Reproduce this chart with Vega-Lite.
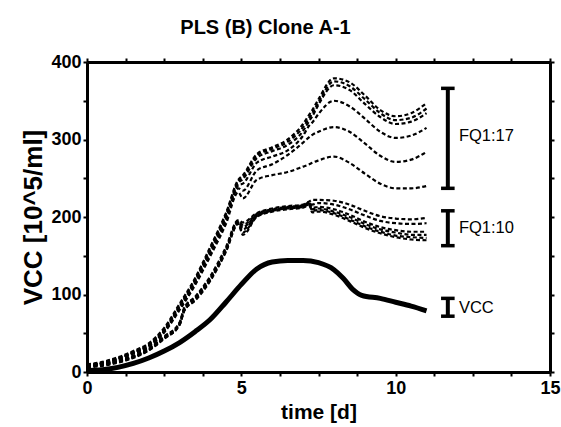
{
 "$schema": "https://vega.github.io/schema/vega-lite/v6.json",
 "autosize": "none",
 "width": 463,
 "height": 310,
 "padding": {"left": 87, "top": 62, "right": 11, "bottom": 55},
 "background": "white",
 "title": {"text": "PLS (B) Clone A-1", "font": "Liberation Sans", "fontSize": 20, "fontWeight": "bold", "color": "black", "anchor": "middle", "dx": -53, "offset": 15},
 "config": {"view": {"stroke": null}, "font": "Liberation Sans",
   "axis": {"grid": false, "domainColor": "black", "domainWidth": 3, "tickColor": "black", "tickWidth": 2, "tickSize": 4, "labelFont": "Liberation Sans", "labelFontWeight": "bold", "labelFontSize": 18, "labelColor": "black", "titleFont": "Liberation Sans", "titleFontWeight": "bold", "titleColor": "black", "labelOverlap": false, "labelFlush": false}},
 "resolve": {"axis": {"x": "independent", "y": "independent"}},
 "datasets": {
  "fq": [
   {"s":"a1","t":0,"v":10},{"s":"a1","t":0.5,"v":13},{"s":"a1","t":1,"v":19},{"s":"a1","t":1.5,"v":27},{"s":"a1","t":2,"v":37},{"s":"a1","t":2.5,"v":57},{"s":"a1","t":3,"v":88},{"s":"a1","t":3.5,"v":121},{"s":"a1","t":4,"v":162},{"s":"a1","t":4.5,"v":205},{"s":"a1","t":4.9,"v":248},{"s":"a1","t":5.05,"v":254},{"s":"a1","t":5.5,"v":281},{"s":"a1","t":6,"v":290},{"s":"a1","t":6.5,"v":300},{"s":"a1","t":7,"v":320},{"s":"a1","t":7.2,"v":332},{"s":"a1","t":7.3,"v":338},{"s":"a1","t":7.5,"v":352},{"s":"a1","t":8,"v":379},{"s":"a1","t":8.5,"v":374},{"s":"a1","t":9,"v":357},{"s":"a1","t":9.5,"v":338},{"s":"a1","t":10,"v":330},{"s":"a1","t":10.5,"v":334},{"s":"a1","t":11,"v":347},
   {"s":"a2","t":0,"v":9},{"s":"a2","t":0.5,"v":12},{"s":"a2","t":1,"v":18},{"s":"a2","t":1.5,"v":26},{"s":"a2","t":2,"v":36},{"s":"a2","t":2.5,"v":55},{"s":"a2","t":3,"v":86},{"s":"a2","t":3.5,"v":119},{"s":"a2","t":4,"v":160},{"s":"a2","t":4.5,"v":203},{"s":"a2","t":4.9,"v":246},{"s":"a2","t":5.05,"v":252},{"s":"a2","t":5.5,"v":279},{"s":"a2","t":6,"v":288},{"s":"a2","t":6.5,"v":297},{"s":"a2","t":7,"v":316},{"s":"a2","t":7.2,"v":328},{"s":"a2","t":7.3,"v":334},{"s":"a2","t":7.5,"v":348},{"s":"a2","t":8,"v":375},{"s":"a2","t":8.5,"v":369},{"s":"a2","t":9,"v":352},{"s":"a2","t":9.5,"v":334},{"s":"a2","t":10,"v":325},{"s":"a2","t":10.5,"v":328},{"s":"a2","t":11,"v":340},
   {"s":"a3","t":0,"v":9},{"s":"a3","t":0.5,"v":12},{"s":"a3","t":1,"v":18},{"s":"a3","t":1.5,"v":25},{"s":"a3","t":2,"v":35},{"s":"a3","t":2.5,"v":54},{"s":"a3","t":3,"v":85},{"s":"a3","t":3.5,"v":118},{"s":"a3","t":4,"v":158},{"s":"a3","t":4.5,"v":201},{"s":"a3","t":4.9,"v":244},{"s":"a3","t":5.05,"v":249},{"s":"a3","t":5.5,"v":276},{"s":"a3","t":6,"v":285},{"s":"a3","t":6.5,"v":293},{"s":"a3","t":7,"v":311},{"s":"a3","t":7.2,"v":324},{"s":"a3","t":7.3,"v":330},{"s":"a3","t":7.5,"v":345},{"s":"a3","t":8,"v":370},{"s":"a3","t":8.5,"v":364},{"s":"a3","t":9,"v":346},{"s":"a3","t":9.5,"v":329},{"s":"a3","t":10,"v":320},{"s":"a3","t":10.5,"v":323},{"s":"a3","t":11,"v":334},
   {"s":"a4","t":0,"v":8},{"s":"a4","t":0.5,"v":11},{"s":"a4","t":1,"v":17},{"s":"a4","t":1.5,"v":25},{"s":"a4","t":2,"v":34},{"s":"a4","t":2.5,"v":53},{"s":"a4","t":3,"v":84},{"s":"a4","t":3.5,"v":116},{"s":"a4","t":4,"v":156},{"s":"a4","t":4.5,"v":198},{"s":"a4","t":4.9,"v":241},{"s":"a4","t":5.05,"v":243},{"s":"a4","t":5.5,"v":270},{"s":"a4","t":6,"v":278},{"s":"a4","t":6.5,"v":286},{"s":"a4","t":7,"v":305},{"s":"a4","t":7.2,"v":318},{"s":"a4","t":7.3,"v":322},{"s":"a4","t":7.5,"v":333},{"s":"a4","t":8,"v":350},{"s":"a4","t":8.5,"v":343},{"s":"a4","t":9,"v":327},{"s":"a4","t":9.5,"v":310},{"s":"a4","t":10,"v":302},{"s":"a4","t":10.5,"v":305},{"s":"a4","t":11,"v":315},
   {"s":"a5","t":0,"v":8},{"s":"a5","t":0.5,"v":11},{"s":"a5","t":1,"v":17},{"s":"a5","t":1.5,"v":24},{"s":"a5","t":2,"v":33},{"s":"a5","t":2.5,"v":52},{"s":"a5","t":3,"v":82},{"s":"a5","t":3.5,"v":114},{"s":"a5","t":4,"v":153},{"s":"a5","t":4.5,"v":195},{"s":"a5","t":4.9,"v":237},{"s":"a5","t":5.05,"v":234},{"s":"a5","t":5.5,"v":260},{"s":"a5","t":6,"v":268},{"s":"a5","t":6.5,"v":280},{"s":"a5","t":7,"v":296},{"s":"a5","t":7.2,"v":303},{"s":"a5","t":7.3,"v":306},{"s":"a5","t":7.5,"v":310},{"s":"a5","t":8,"v":316},{"s":"a5","t":8.5,"v":310},{"s":"a5","t":9,"v":295},{"s":"a5","t":9.5,"v":279},{"s":"a5","t":10,"v":271},{"s":"a5","t":10.5,"v":274},{"s":"a5","t":11,"v":284},
   {"s":"a6","t":0,"v":8},{"s":"a6","t":0.5,"v":11},{"s":"a6","t":1,"v":16},{"s":"a6","t":1.5,"v":24},{"s":"a6","t":2,"v":33},{"s":"a6","t":2.5,"v":51},{"s":"a6","t":3,"v":80},{"s":"a6","t":3.5,"v":112},{"s":"a6","t":4,"v":150},{"s":"a6","t":4.5,"v":191},{"s":"a6","t":4.9,"v":232},{"s":"a6","t":5.05,"v":224},{"s":"a6","t":5.5,"v":248},{"s":"a6","t":6,"v":254},{"s":"a6","t":6.5,"v":258},{"s":"a6","t":7,"v":265},{"s":"a6","t":7.2,"v":268},{"s":"a6","t":7.3,"v":270},{"s":"a6","t":7.5,"v":273},{"s":"a6","t":8,"v":278},{"s":"a6","t":8.5,"v":270},{"s":"a6","t":9,"v":256},{"s":"a6","t":9.5,"v":243},{"s":"a6","t":10,"v":237},{"s":"a6","t":10.5,"v":237},{"s":"a6","t":11,"v":240},
   {"s":"b1","t":0,"v":9},{"s":"b1","t":0.5,"v":11},{"s":"b1","t":1,"v":15},{"s":"b1","t":1.5,"v":21},{"s":"b1","t":2,"v":31},{"s":"b1","t":2.5,"v":46},{"s":"b1","t":3,"v":64},{"s":"b1","t":3.15,"v":83},{"s":"b1","t":3.5,"v":97},{"s":"b1","t":4,"v":124},{"s":"b1","t":4.5,"v":161},{"s":"b1","t":4.9,"v":196},{"s":"b1","t":5.05,"v":193},{"s":"b1","t":5.5,"v":205},{"s":"b1","t":6,"v":211},{"s":"b1","t":6.5,"v":214},{"s":"b1","t":7,"v":216},{"s":"b1","t":7.2,"v":220},{"s":"b1","t":7.3,"v":222},{"s":"b1","t":7.5,"v":222},{"s":"b1","t":8,"v":221},{"s":"b1","t":8.5,"v":216},{"s":"b1","t":9,"v":208},{"s":"b1","t":9.5,"v":201},{"s":"b1","t":10,"v":198},{"s":"b1","t":10.5,"v":197},{"s":"b1","t":11,"v":199},
   {"s":"b2","t":0,"v":8},{"s":"b2","t":0.5,"v":10},{"s":"b2","t":1,"v":14},{"s":"b2","t":1.5,"v":20},{"s":"b2","t":2,"v":30},{"s":"b2","t":2.5,"v":45},{"s":"b2","t":3,"v":63},{"s":"b2","t":3.15,"v":82},{"s":"b2","t":3.5,"v":96},{"s":"b2","t":4,"v":122},{"s":"b2","t":4.5,"v":159},{"s":"b2","t":4.9,"v":195},{"s":"b2","t":5.05,"v":190},{"s":"b2","t":5.5,"v":204},{"s":"b2","t":6,"v":210},{"s":"b2","t":6.5,"v":213},{"s":"b2","t":7,"v":215},{"s":"b2","t":7.2,"v":219},{"s":"b2","t":7.3,"v":216},{"s":"b2","t":7.5,"v":218},{"s":"b2","t":8,"v":216},{"s":"b2","t":8.5,"v":210},{"s":"b2","t":9,"v":202},{"s":"b2","t":9.5,"v":195},{"s":"b2","t":10,"v":192},{"s":"b2","t":10.5,"v":191},{"s":"b2","t":11,"v":192},
   {"s":"b3","t":0,"v":8},{"s":"b3","t":0.5,"v":10},{"s":"b3","t":1,"v":14},{"s":"b3","t":1.5,"v":20},{"s":"b3","t":2,"v":29},{"s":"b3","t":2.5,"v":44},{"s":"b3","t":3,"v":62},{"s":"b3","t":3.15,"v":81},{"s":"b3","t":3.5,"v":95},{"s":"b3","t":4,"v":121},{"s":"b3","t":4.5,"v":158},{"s":"b3","t":4.9,"v":194},{"s":"b3","t":5.05,"v":187},{"s":"b3","t":5.5,"v":203},{"s":"b3","t":6,"v":209},{"s":"b3","t":6.5,"v":212},{"s":"b3","t":7,"v":214},{"s":"b3","t":7.2,"v":218},{"s":"b3","t":7.3,"v":212},{"s":"b3","t":7.5,"v":213},{"s":"b3","t":8,"v":210},{"s":"b3","t":8.5,"v":203},{"s":"b3","t":9,"v":194},{"s":"b3","t":9.5,"v":187},{"s":"b3","t":10,"v":183},{"s":"b3","t":10.5,"v":181},{"s":"b3","t":11,"v":181},
   {"s":"b4","t":0,"v":7},{"s":"b4","t":0.5,"v":9},{"s":"b4","t":1,"v":13},{"s":"b4","t":1.5,"v":19},{"s":"b4","t":2,"v":29},{"s":"b4","t":2.5,"v":44},{"s":"b4","t":3,"v":62},{"s":"b4","t":3.15,"v":80},{"s":"b4","t":3.5,"v":94},{"s":"b4","t":4,"v":120},{"s":"b4","t":4.5,"v":157},{"s":"b4","t":4.9,"v":193},{"s":"b4","t":5.05,"v":184},{"s":"b4","t":5.5,"v":202},{"s":"b4","t":6,"v":208},{"s":"b4","t":6.5,"v":212},{"s":"b4","t":7,"v":214},{"s":"b4","t":7.2,"v":217},{"s":"b4","t":7.3,"v":210},{"s":"b4","t":7.5,"v":211},{"s":"b4","t":8,"v":207},{"s":"b4","t":8.5,"v":200},{"s":"b4","t":9,"v":191},{"s":"b4","t":9.5,"v":184},{"s":"b4","t":10,"v":180},{"s":"b4","t":10.5,"v":177},{"s":"b4","t":11,"v":177},
   {"s":"b5","t":0,"v":7},{"s":"b5","t":0.5,"v":9},{"s":"b5","t":1,"v":13},{"s":"b5","t":1.5,"v":19},{"s":"b5","t":2,"v":28},{"s":"b5","t":2.5,"v":43},{"s":"b5","t":3,"v":61},{"s":"b5","t":3.15,"v":79},{"s":"b5","t":3.5,"v":93},{"s":"b5","t":4,"v":119},{"s":"b5","t":4.5,"v":156},{"s":"b5","t":4.9,"v":192},{"s":"b5","t":5.05,"v":180},{"s":"b5","t":5.5,"v":201},{"s":"b5","t":6,"v":208},{"s":"b5","t":6.5,"v":211},{"s":"b5","t":7,"v":213},{"s":"b5","t":7.2,"v":216},{"s":"b5","t":7.3,"v":208},{"s":"b5","t":7.5,"v":209},{"s":"b5","t":8,"v":205},{"s":"b5","t":8.5,"v":197},{"s":"b5","t":9,"v":188},{"s":"b5","t":9.5,"v":181},{"s":"b5","t":10,"v":176},{"s":"b5","t":10.5,"v":174},{"s":"b5","t":11,"v":173},
   {"s":"b6","t":0,"v":6},{"s":"b6","t":0.5,"v":8},{"s":"b6","t":1,"v":12},{"s":"b6","t":1.5,"v":18},{"s":"b6","t":2,"v":28},{"s":"b6","t":2.5,"v":43},{"s":"b6","t":3,"v":61},{"s":"b6","t":3.15,"v":79},{"s":"b6","t":3.5,"v":92},{"s":"b6","t":4,"v":118},{"s":"b6","t":4.5,"v":155},{"s":"b6","t":4.9,"v":191},{"s":"b6","t":5.05,"v":177},{"s":"b6","t":5.5,"v":200},{"s":"b6","t":6,"v":207},{"s":"b6","t":6.5,"v":210},{"s":"b6","t":7,"v":212},{"s":"b6","t":7.2,"v":215},{"s":"b6","t":7.3,"v":206},{"s":"b6","t":7.5,"v":207},{"s":"b6","t":8,"v":203},{"s":"b6","t":8.5,"v":195},{"s":"b6","t":9,"v":186},{"s":"b6","t":9.5,"v":179},{"s":"b6","t":10,"v":174},{"s":"b6","t":10.5,"v":171},{"s":"b6","t":11,"v":170}
  ],
  "vcc": [
   {"t":0,"v":2},{"t":0.5,"v":3},{"t":1,"v":6},{"t":1.5,"v":11},{"t":2,"v":18},{"t":2.5,"v":27},{"t":3,"v":38},{"t":3.5,"v":52},{"t":4,"v":68},{"t":4.5,"v":90},{"t":5,"v":113},{"t":5.5,"v":133},{"t":6,"v":142},{"t":6.5,"v":144},{"t":7,"v":144},{"t":7.5,"v":141},{"t":8,"v":132},{"t":8.3,"v":121},{"t":8.6,"v":107},{"t":8.9,"v":99},{"t":9.5,"v":95},{"t":10,"v":90},{"t":10.5,"v":85},{"t":11,"v":79}
  ],
  "bars": [
   {"lab":"FQ1:17","xc":11.69,"lo":237,"hi":366,"tx":12.05,"ty":305},
   {"lab":"FQ1:10","xc":11.69,"lo":163,"hi":208,"tx":12.05,"ty":186},
   {"lab":"VCC","xc":11.69,"lo":72,"hi":95,"tx":12.05,"ty":83}
  ],
  "caps": [
   {"x1":11.47,"x2":11.91,"y":237},{"x1":11.47,"x2":11.91,"y":366},
   {"x1":11.47,"x2":11.91,"y":163},{"x1":11.47,"x2":11.91,"y":208},
   {"x1":11.47,"x2":11.91,"y":72},{"x1":11.47,"x2":11.91,"y":95}
  ]
 },
 "layer": [
  {
   "data": {"name": "fq"},
   "mark": {"type": "line", "color": "black", "strokeWidth": 2.2, "strokeDash": [4, 2.5], "interpolate": "monotone"},
   "encoding": {
    "x": {"field": "t", "type": "quantitative", "scale": {"domain": [0, 15], "nice": false},
      "axis": {"orient": "bottom", "values": [0,1.25,2.5,3.75,5,6.25,7.5,8.75,10,11.25,12.5,13.75,15], "labelExpr": "datum.value % 5 === 0 ? datum.label : ''", "title": "time [d]", "titleFontSize": 21, "labelPadding": 3, "titlePadding": 4}},
    "y": {"field": "v", "type": "quantitative", "scale": {"domain": [0, 400], "nice": false},
      "axis": {"orient": "left", "values": [0,50,100,150,200,250,300,350,400], "labelExpr": "datum.value % 100 === 0 ? datum.label : ''", "title": "VCC [10^5/ml]", "titleFontSize": 26, "labelPadding": 2, "titlePadding": 4}},
    "detail": {"field": "s", "type": "nominal"}
   }
  },
  {
   "data": {"name": "vcc"},
   "mark": {"type": "line", "color": "black", "strokeWidth": 5, "interpolate": "monotone"},
   "encoding": {
    "x": {"field": "t", "type": "quantitative", "scale": {"domain": [0, 15], "nice": false},
      "axis": {"orient": "top", "values": [0,1.25,2.5,3.75,5,6.25,7.5,8.75,10,11.25,12.5,13.75,15], "labels": false, "title": null}},
    "y": {"field": "v", "type": "quantitative", "scale": {"domain": [0, 400], "nice": false},
      "axis": {"orient": "right", "values": [0,50,100,150,200,250,300,350,400], "labels": false, "title": null}}
   }
  },
  {
   "data": {"name": "bars"},
   "mark": {"type": "rule", "color": "black", "strokeWidth": 4},
   "encoding": {
    "x": {"field": "xc", "type": "quantitative", "axis": null},
    "y": {"field": "lo", "type": "quantitative", "axis": null},
    "y2": {"field": "hi"}
   }
  },
  {
   "data": {"name": "caps"},
   "mark": {"type": "rule", "color": "black", "strokeWidth": 3.5},
   "encoding": {
    "x": {"field": "x1", "type": "quantitative", "axis": null},
    "x2": {"field": "x2"},
    "y": {"field": "y", "type": "quantitative", "axis": null}
   }
  },
  {
   "data": {"name": "bars"},
   "mark": {"type": "text", "color": "black", "font": "Liberation Sans", "fontSize": 16.5, "align": "left", "baseline": "middle"},
   "encoding": {
    "x": {"field": "tx", "type": "quantitative", "axis": null},
    "y": {"field": "ty", "type": "quantitative", "axis": null},
    "text": {"field": "lab", "type": "nominal"}
   }
  }
 ]
}
